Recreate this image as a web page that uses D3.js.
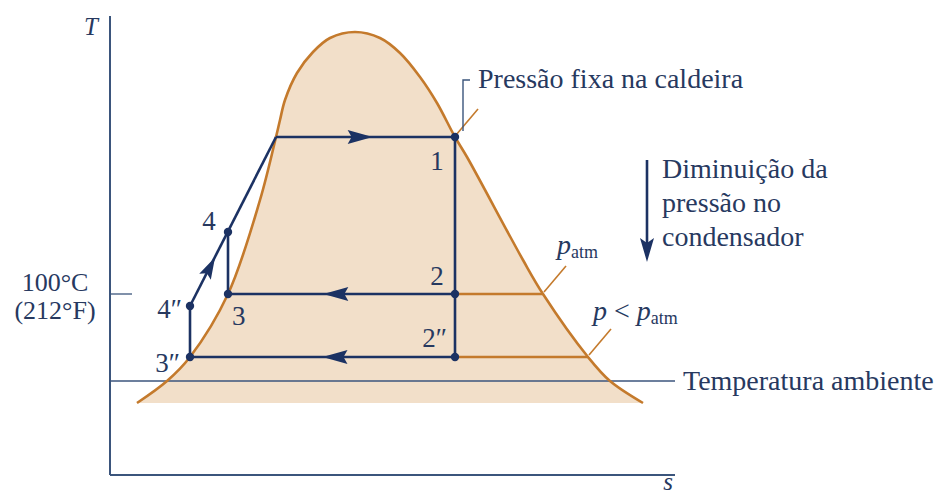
<!DOCTYPE html>
<html>
<head>
<meta charset="utf-8">
<script src="https://cdn.jsdelivr.net/npm/d3@7"></script>
<style>
  html, body { margin: 0; padding: 0; background: #ffffff; }
  svg { display: block; }
  text { font-family: "Liberation Serif", "Times New Roman", serif; fill: #27395f; }
</style>
</head>
<body>
<svg id="chart" width="944" height="497"></svg>
<script>
// Saturation dome (entropy s, temperature T), arbitrary units
const domeS = [27, 57, 80, 118, 150, 166, 170, 175, 187, 203, 220, 245, 270, 290, 310, 327, 345, 357, 413, 433, 478, 500, 533];
const domeT = [72, 94, 118, 181, 275, 338, 355, 375, 402, 423, 437, 443, 437, 422, 398, 372, 338, 318, 215, 181, 118, 94, 72];

// Cycle state points
const stateNames = ["1", "2", "2″", "3", "3″", "4", "4″"];
const stateS = [345, 345, 345, 118, 80, 118, 80];
const stateT = [338, 181, 118, 181, 118, 243, 169];

// Saturated liquid at boiler pressure, saturated vapour at the two condenser pressures
const boilerLiquidS = 166;
const vaporS = [433, 478];          // p_atm, p < p_atm
const vaporT = [181, 118];

// Reference levels
const ambientT = 94;
const tick100T = 181;
const sMax = 565;
const TMax = 459;

const x = d3.scaleLinear().domain([0, sMax]).range([110, 675]);
const y = d3.scaleLinear().domain([0, TMax]).range([475, 16]);

const navy = "#1c3263";
const axisCol = "#3b557c";
const orange = "#c47a2c";
const fillCol = "#f2dfc9";
const FS = 28;

const svg = d3.select("#chart");
const st = name => { const i = stateNames.indexOf(name); return [stateS[i], stateT[i]]; };

// Dome
const domePts = domeS.map((s, i) => [s, domeT[i]]);
const domeLine = d3.line().x(d => x(d[0])).y(d => y(d[1])).curve(d3.curveCatmullRom.alpha(0.5));
svg.append("path").attr("d", domeLine(domePts) + "Z").attr("fill", fillCol).attr("stroke", "none");

// Axes
svg.append("line").attr("x1", x(0)).attr("x2", x(0)).attr("y1", y(0)).attr("y2", y(TMax))
  .attr("stroke", axisCol).attr("stroke-width", 2);
svg.append("line").attr("x1", x(0)).attr("x2", x(sMax)).attr("y1", y(0)).attr("y2", y(0))
  .attr("stroke", axisCol).attr("stroke-width", 2);

// 100 °C tick
svg.append("line").attr("x1", x(0)).attr("x2", x(0) + 22).attr("y1", y(tick100T)).attr("y2", y(tick100T))
  .attr("stroke", axisCol).attr("stroke-width", 1.3);

// Ambient temperature line
svg.append("line").attr("x1", x(0)).attr("x2", x(sMax)).attr("y1", y(ambientT)).attr("y2", y(ambientT))
  .attr("stroke", axisCol).attr("stroke-width", 1.5);

// Condensation lines inside the dome (wet region, orange part)
vaporS.forEach((s, i) => {
  svg.append("line").attr("x1", x(stateS[0])).attr("x2", x(s)).attr("y1", y(vaporT[i])).attr("y2", y(vaporT[i]))
    .attr("stroke", orange).attr("stroke-width", 2.5);
});

// Dome outline
svg.append("path").attr("d", domeLine(domePts)).attr("fill", "none")
  .attr("stroke", orange).attr("stroke-width", 2.6);

// Orange leader ticks from the dome
const leaders = [[st("1")[0], st("1")[1]], [vaporS[0], vaporT[0]], [vaporS[1], vaporT[1]]];
leaders.forEach(p => {
  svg.append("line").attr("x1", x(p[0]) + 1).attr("y1", y(p[1]) - 2).attr("x2", x(p[0]) + 23).attr("y2", y(p[1]) - 28)
    .attr("stroke", orange).attr("stroke-width", 1.6);
});

// Cycle segments
const seg = (a, b) => svg.append("line").attr("x1", x(a[0])).attr("y1", y(a[1])).attr("x2", x(b[0])).attr("y2", y(b[1]))
  .attr("stroke", navy).attr("stroke-width", 2.6);
seg(st("4″"), [boilerLiquidS, stateT[0]]);
seg([boilerLiquidS, stateT[0]], st("1"));
seg(st("1"), st("2″"));
seg(st("2"), st("3"));
seg(st("3"), st("4"));
seg(st("2″"), st("3″"));
seg(st("3″"), st("4″"));

// Direction arrows along the segments
function arrowOn(a, b, frac, len, wid) {
  const ax = x(a[0]), ay = y(a[1]), bx = x(b[0]), by = y(b[1]);
  const dx = bx - ax, dy = by - ay, d = Math.hypot(dx, dy);
  const ux = dx / d, uy = dy / d;
  const tx = ax + dx * frac, ty = ay + dy * frac;
  const bxp = tx - ux * len, byp = ty - uy * len;
  const nx = -uy, ny = ux;
  const pts = [[tx, ty], [bxp + nx * wid / 2, byp + ny * wid / 2], [bxp + ux * 4, byp + uy * 4], [bxp - nx * wid / 2, byp - ny * wid / 2]];
  svg.append("path").attr("d", "M" + pts.map(p => p.join(",")).join("L") + "Z").attr("fill", navy);
}
arrowOn([boilerLiquidS, stateT[0]], st("1"), 0.54, 25, 14);
arrowOn(st("2"), st("3"), 0.58, 25, 14);
arrowOn(st("2″"), st("3″"), 0.5, 25, 14);
arrowOn(st("4″"), st("4"), 0.66, 22, 13);

// State points
stateNames.forEach((n, i) => {
  svg.append("circle").attr("cx", x(stateS[i])).attr("cy", y(stateT[i])).attr("r", 4.2).attr("fill", navy);
});

// State labels
const stateLabels = [
  { n: "1", dx: -18, dy: 33, anchor: "middle" },
  { n: "2", dx: -18, dy: -9, anchor: "middle" },
  { n: "2″", dx: -8, dy: -10, anchor: "end" },
  { n: "3", dx: 4, dy: 31, anchor: "start" },
  { n: "3″", dx: -10, dy: 15, anchor: "end" },
  { n: "4", dx: -19, dy: -2, anchor: "middle" },
  { n: "4″", dx: -8, dy: 12, anchor: "end" }
];
stateLabels.forEach(l => {
  const p = st(l.n);
  svg.append("text").attr("x", x(p[0]) + l.dx).attr("y", y(p[1]) + l.dy)
    .attr("text-anchor", l.anchor).attr("font-size", 27).text(l.n);
});

// Axis labels
svg.append("text").attr("x", 91).attr("y", 35).attr("text-anchor", "middle")
  .attr("font-size", 25).attr("font-style", "italic").text("T");
svg.append("text").attr("x", 668).attr("y", 490).attr("text-anchor", "middle")
  .attr("font-size", 25).attr("font-style", "italic").text("s");

// 100 °C label
svg.append("text").attr("x", 55).attr("y", y(tick100T) - 3).attr("text-anchor", "middle").attr("font-size", 26).text("100°C");
svg.append("text").attr("x", 55).attr("y", y(tick100T) + 25).attr("text-anchor", "middle").attr("font-size", 26).text("(212°F)");

// Ambient temperature label
svg.append("text").attr("x", x(sMax) + 8).attr("y", y(ambientT) + 9).attr("font-size", FS).text("Temperatura ambiente");

// Boiler pressure note with bracket leader
const p1 = st("1");
svg.append("path")
  .attr("d", `M${x(p1[0]) + 15},${y(p1[1]) - 57} H${x(p1[0]) + 8} V${y(p1[1]) - 6}`)
  .attr("fill", "none").attr("stroke", axisCol).attr("stroke-width", 1.4);
svg.append("text").attr("x", x(p1[0]) + 23).attr("y", y(p1[1]) - 49).attr("font-size", FS).text("Pressão fixa na caldeira");

// Pressure labels
const tPatm = svg.append("text").attr("x", x(vaporS[0]) + 14).attr("y", y(vaporT[0]) - 40).attr("font-size", FS);
tPatm.append("tspan").attr("font-style", "italic").text("p");
tPatm.append("tspan").attr("font-size", 18).attr("dy", 4).text("atm");

const tPlow = svg.append("text").attr("x", x(vaporS[1]) + 5).attr("y", y(vaporT[1]) - 37).attr("font-size", FS);
tPlow.append("tspan").attr("font-style", "italic").text("p");
tPlow.append("tspan").text(" < ");
tPlow.append("tspan").attr("font-style", "italic").text("p");
tPlow.append("tspan").attr("font-size", 18).attr("dy", 4).text("atm");

// Condenser pressure decrease note
const arrS = 537, arrT0 = 315, arrT1 = 213;
svg.append("line").attr("x1", x(arrS)).attr("x2", x(arrS)).attr("y1", y(arrT0)).attr("y2", y(arrT1) - 18)
  .attr("stroke", navy).attr("stroke-width", 2.6);
svg.append("path")
  .attr("d", `M${x(arrS)},${y(arrT1)} L${x(arrS) - 7},${y(arrT1) - 24} L${x(arrS)},${y(arrT1) - 19} L${x(arrS) + 7},${y(arrT1) - 24} Z`)
  .attr("fill", navy);
const noteLines = ["Diminuição da", "pressão no", "condensador"];
noteLines.forEach((t, i) => {
  svg.append("text").attr("x", x(arrS) + 15).attr("y", 178 + i * 34).attr("font-size", FS).text(t);
});
</script>
</body>
</html>
